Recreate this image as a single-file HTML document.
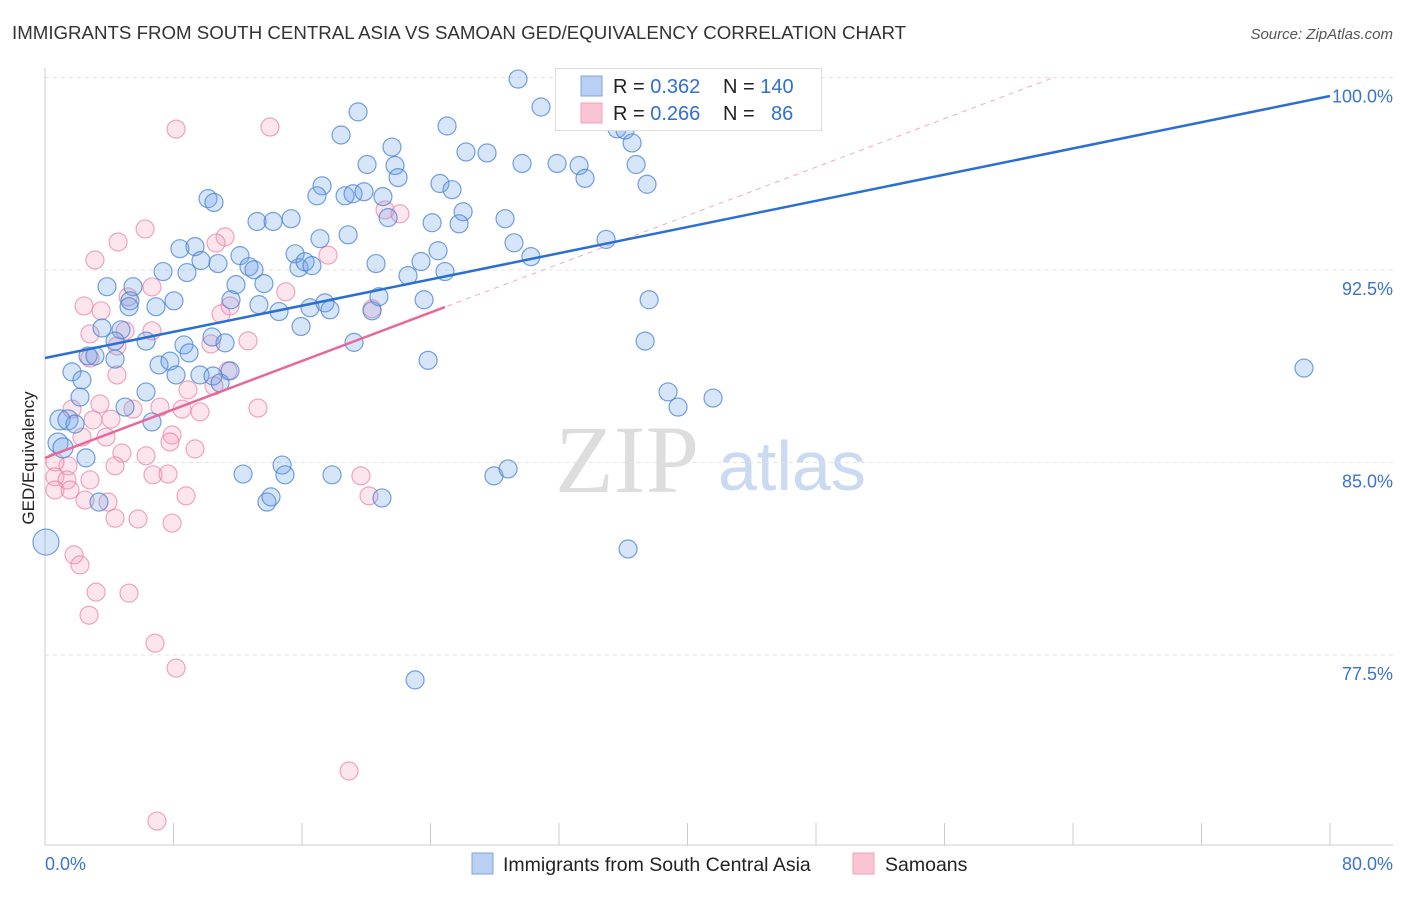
<!DOCTYPE html>
<html><head><meta charset="utf-8"><style>
body{margin:0;background:#fff;font-family:"Liberation Sans",sans-serif;}
svg text{font-family:"Liberation Sans",sans-serif;}
</style></head><body>
<svg id="chart" width="1406" height="892">
<text x="12" y="39" font-size="18.7" fill="#333">IMMIGRANTS FROM SOUTH CENTRAL ASIA VS SAMOAN GED/EQUIVALENCY CORRELATION CHART</text>
<text x="1393" y="39" font-size="15" fill="#555" font-style="italic" text-anchor="end">Source: ZipAtlas.com</text>
<text transform="translate(34,458) rotate(-90)" font-size="17" fill="#222" text-anchor="middle">GED/Equivalency</text>
<g>
<text x="555" y="492" font-size="96" fill="#ddd" font-family="Liberation Serif" style="font-family:'Liberation Serif',serif">ZIP</text>
<text x="718" y="490" font-size="70" fill="#c9daf2">atlas</text>
</g>
<g id="grid"></g><g id="lines"></g><g id="pts"></g>
<g>
<rect x="555.5" y="68.5" width="266" height="62" fill="#fff" stroke="#ddd"/>
<rect x="581" y="76" width="21" height="20" fill="#b9d0f2" stroke="#7aa6e6"/>
<rect x="581" y="103" width="21" height="20" fill="#f9c4d4" stroke="#f0a0b8"/>
<text x="613" y="93" font-size="20" fill="#222">R = <tspan fill="#2f6fd0">0.362</tspan><tspan x="723">N = </tspan><tspan fill="#2f6fd0">140</tspan></text>
<text x="613" y="120" font-size="20" fill="#222">R = <tspan fill="#2f6fd0">0.266</tspan><tspan x="723">N = </tspan><tspan x="771" fill="#2f6fd0">86</tspan></text>
</g>
<g>
<rect x="472" y="853" width="21" height="21" fill="#b9d0f2" stroke="#7aa6e6"/>
<text x="503" y="871" font-size="19.5" fill="#222">Immigrants from South Central Asia</text>
<rect x="853" y="853" width="21" height="21" fill="#f9c4d4" stroke="#f0a0b8"/>
<text x="885" y="871" font-size="19.5" fill="#222">Samoans</text>
</g>
</svg>
<script>
const blueX=[29.45,30.88,19.49,25.03,21.60,18.43,26.21,27.52,35.61,36.11,36.55,32.94,29.70,31.88,33.25,36.80,33.62,37.48,20.05,21.79,21.98,17.25,16.93,18.68,19.18,19.86,21.04,24.59,25.34,26.03,28.64,25.78,24.10,21.36,10.15,10.52,13.20,14.20,15.32,17.12,18.87,29.20,30.25,34.93,8.40,9.34,9.71,10.77,12.14,12.70,13.01,15.57,15.81,16.19,16.62,20.61,23.41,24.47,24.90,22.60,7.35,8.84,11.89,13.63,3.86,5.48,5.29,8.03,6.91,5.23,11.58,13.32,14.57,16.50,17.43,17.74,20.36,20.79,23.60,15.94,19.24,23.85,37.61,37.36,3.55,4.73,6.29,4.36,2.68,3.11,4.36,8.65,8.97,10.40,11.21,7.10,7.78,8.16,9.65,10.46,11.52,1.68,2.30,6.29,10.90,2.18,4.98,6.66,38.79,39.41,41.59,78.38,0.93,1.43,1.87,0.81,1.12,2.55,12.33,14.76,14.94,17.87,20.98,13.82,14.07,3.36,27.95,28.83,36.30,23.04,0.06];
const blueY=[99.94,98.85,98.66,98.11,97.29,97.76,97.10,97.06,98.00,97.95,97.45,98.31,96.65,96.65,96.57,96.61,96.07,95.84,96.61,96.57,96.10,95.78,95.39,95.39,95.47,95.55,95.36,95.87,95.63,94.77,94.50,94.30,94.34,94.54,95.28,95.13,94.39,94.39,94.50,93.72,93.87,93.56,93.02,93.69,93.33,93.41,92.87,92.75,93.06,92.63,92.51,93.13,92.59,92.82,92.67,92.75,92.83,93.25,92.44,92.28,92.44,92.40,91.93,91.97,91.85,91.85,91.30,91.30,91.07,91.07,91.34,91.15,90.88,91.03,91.22,90.95,90.91,91.46,91.34,90.30,89.68,88.98,91.34,89.73,90.24,90.17,89.73,89.73,89.15,89.15,89.03,89.58,89.27,89.89,89.66,88.80,88.95,88.41,88.41,88.37,88.57,88.53,88.22,87.75,88.10,87.55,87.16,86.58,87.75,87.16,87.51,88.68,86.66,86.66,86.50,85.76,85.57,85.18,84.55,84.90,84.52,84.52,83.62,83.46,83.66,83.46,84.48,84.75,81.63,76.53,81.90];
const pinkX=[8.16,14.01,22.10,21.17,6.23,4.55,11.21,10.65,17.62,3.11,6.66,14.99,2.43,3.49,5.17,11.52,10.96,20.36,2.80,4.98,6.66,10.33,12.64,4.48,2.80,11.39,4.48,8.90,10.52,1.68,3.42,5.48,7.16,8.53,9.65,13.26,2.99,4.11,2.30,3.80,7.91,9.34,7.78,4.79,6.29,1.43,4.36,6.72,7.66,0.62,0.62,1.37,2.80,0.62,1.56,2.49,3.92,8.78,20.17,19.67,4.36,5.79,7.91,1.81,2.18,3.18,5.23,2.74,6.85,8.16,18.93,6.97];
const pinkY=[97.99,98.07,94.69,94.84,94.10,93.59,93.79,93.55,93.08,92.89,91.84,91.65,91.10,90.91,91.45,91.10,90.79,90.99,90.01,90.13,90.13,89.62,89.74,89.54,89.07,88.57,88.41,87.83,87.98,87.08,87.28,87.08,87.16,87.08,86.97,87.12,86.66,86.69,85.99,85.99,86.07,85.53,85.80,85.37,85.26,84.87,84.87,84.52,84.55,85.02,84.44,84.32,84.32,83.93,83.93,83.54,83.46,83.70,83.70,84.48,82.83,82.80,82.64,81.40,81.01,79.95,79.91,79.05,77.96,76.99,72.98,71.03];
const blueLine=[89.07,0.1276]; // intercept, slope
const pinkLine=[85.18,0.236];
const pinkSolidEnd=24.9;
const yTicks=[100,92.5,85,77.5];
const xTickVals=[0,8,16,24,32,40,48,56,64,72,80];
const NS="http://www.w3.org/2000/svg";
const X=v=>45+v*1285/80, Y=v=>77.5+(100-v)*192.5/7.5;
function mk(tag,at,parent){const e=document.createElementNS(NS,tag);for(const k in at)e.setAttribute(k,at[k]);parent.appendChild(e);return e;}
const grid=document.getElementById('grid'),lines=document.getElementById('lines'),pts=document.getElementById('pts');
yTicks.forEach(t=>{
 const l=mk('line',{x1:45,x2:1393,y1:Y(t),y2:Y(t),stroke:'#e2e2e2','stroke-dasharray':'4,4'},grid);
 
 
 const tx=mk('text',{x:1393,y:Y(t)+25,'font-size':18,fill:'#3b73cc','text-anchor':'end'},grid);
 tx.textContent=t.toFixed(1)+'%';
 
 
});
const ax=mk('line',{x1:45,x2:45,y1:68,y2:845,stroke:'#ccc'},grid);


const xax=mk('line',{x1:45,x2:1393,y1:845,y2:845,stroke:'#ccc'},grid);


xTickVals.forEach(t=>{
 const l=mk('line',{x1:X(t),x2:X(t),y1:823,y2:845,stroke:'#ccc'},grid);
 
 
});
[[0,'start'],[80,'end']].forEach(([t,a])=>{
 const tx=mk('text',{x:t===0?45:1393,y:870,'font-size':18,fill:'#3b73cc','text-anchor':a},grid);
 tx.textContent=t.toFixed(1)+'%';
 
 
});
function drawPts(xs,ys,fill,stroke,name){
 xs.forEach((x,i)=>{
  const r=(x<1.5&&(name==='blue-point'))?(x<0.5?13:10):9;
  const c=mk('circle',{cx:X(x),cy:Y(ys[i]),r:r,fill:fill,stroke:stroke,'stroke-width':1.2},pts);
  
  
 });
}
drawPts(pinkX,pinkY,'rgba(244,160,190,0.28)','rgba(232,130,165,0.7)','pink-point');
drawPts(blueX,blueY,'rgba(110,160,230,0.28)','rgba(70,130,215,0.75)','blue-point');
const pd=mk('line',{x1:X(0),y1:Y(pinkLine[0]),x2:X(62.9),y2:Y(pinkLine[0]+pinkLine[1]*62.9),stroke:'#eeaac0','stroke-dasharray':'5,5','stroke-width':1},lines);


const ps=mk('line',{x1:X(0),y1:Y(pinkLine[0]),x2:X(pinkSolidEnd),y2:Y(pinkLine[0]+pinkLine[1]*pinkSolidEnd),stroke:'#e8679a','stroke-width':2.5},pts);


const bl=mk('line',{x1:X(0),y1:Y(blueLine[0]),x2:X(80),y2:Y(blueLine[0]+blueLine[1]*80),stroke:'#2a6fd4','stroke-width':2.5},pts);


</script>
</body></html>
